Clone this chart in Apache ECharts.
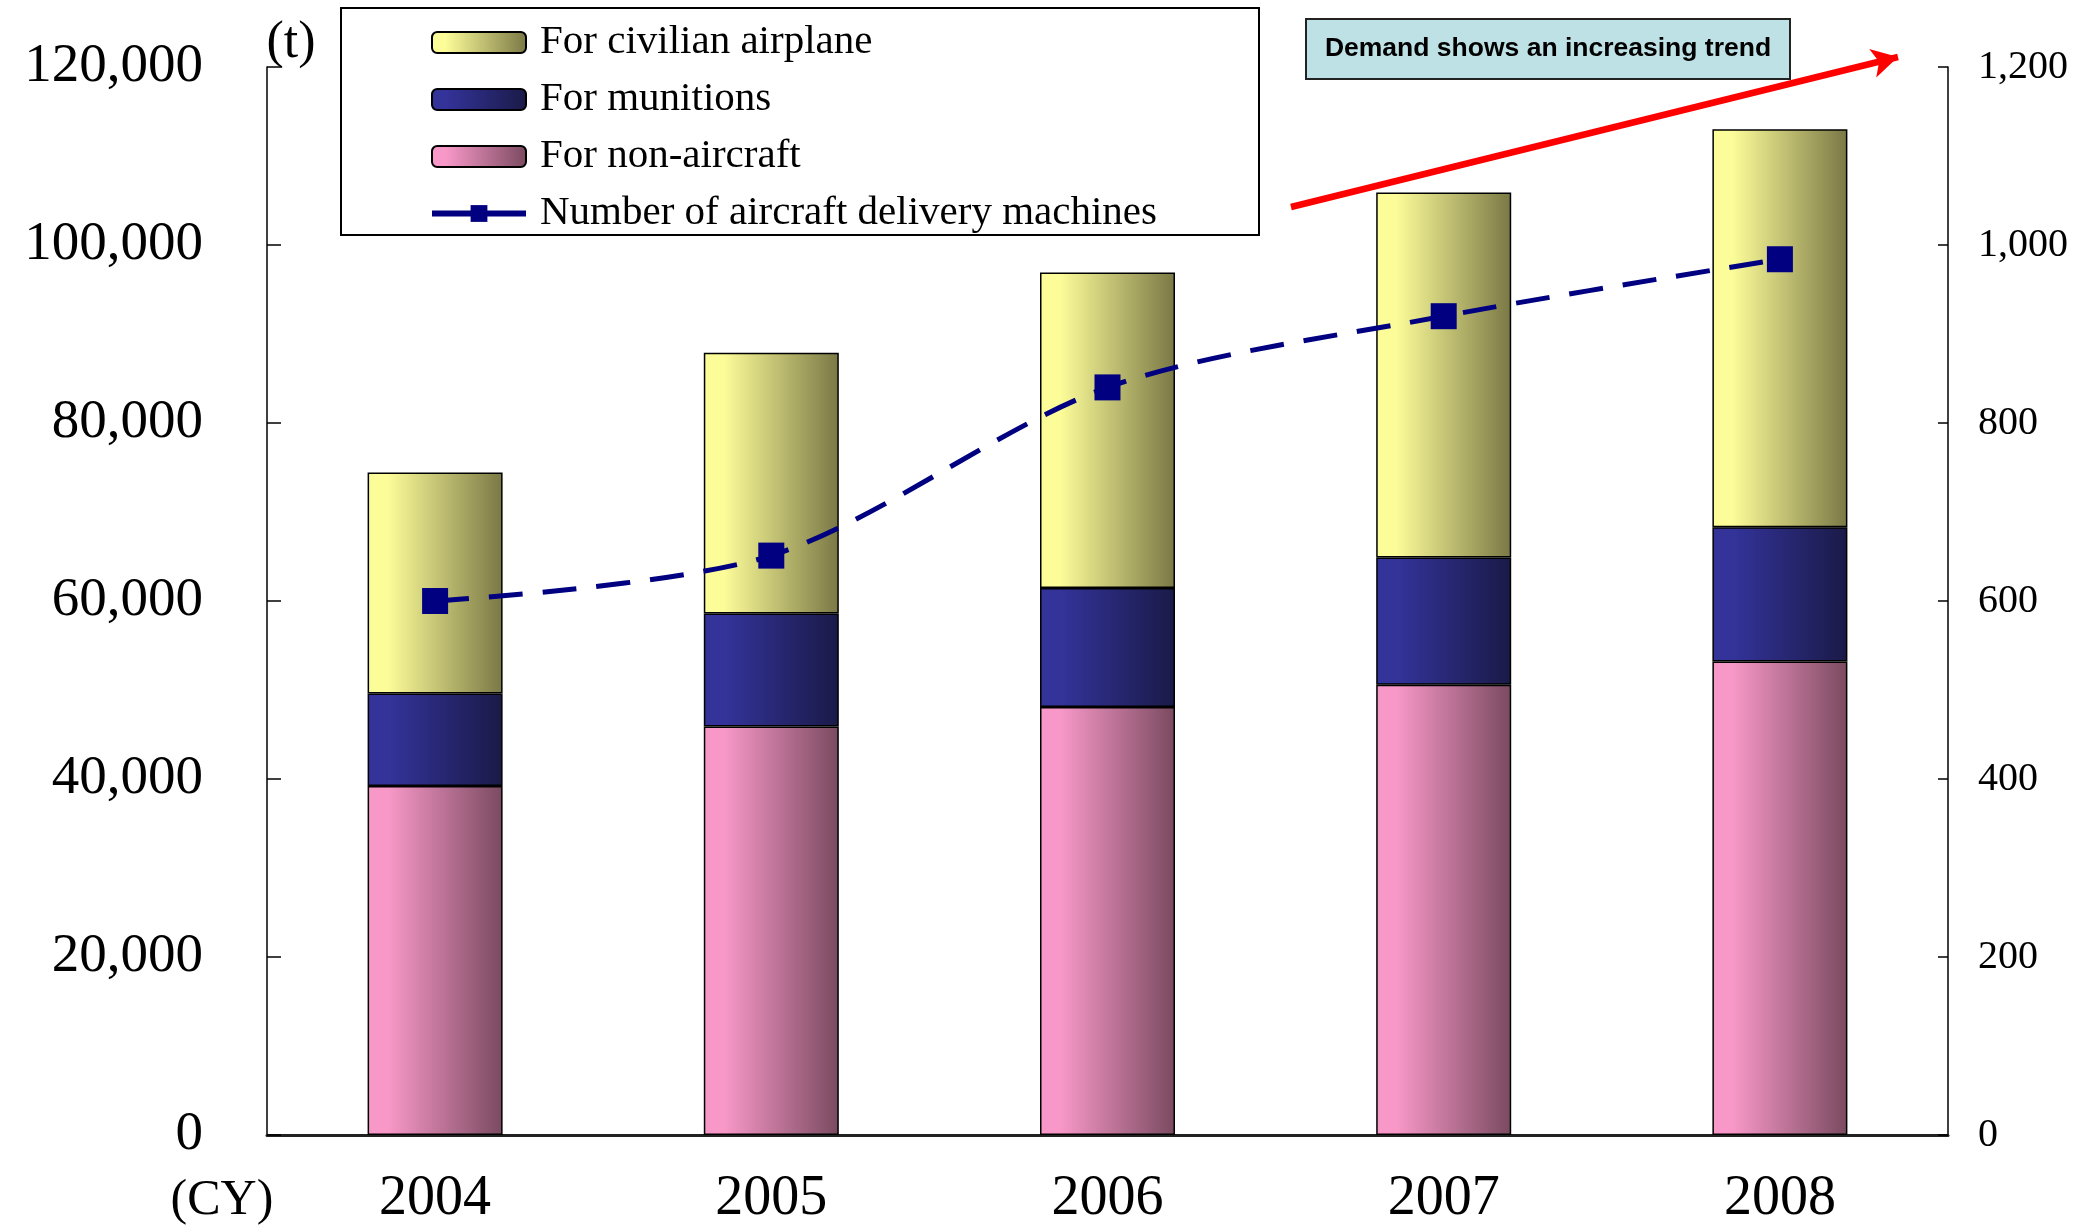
<!DOCTYPE html>
<html>
<head>
<meta charset="utf-8">
<script src="https://cdn.jsdelivr.net/npm/echarts@6/dist/echarts.min.js"></script>
<style>
  html, body { margin: 0; padding: 0; background: #fff; }
  #chart { width: 2096px; height: 1227px; }
</style>
</head>
<body>
<div id="chart"></div>
<script>
// 横軸の年
const years = ["2004", "2005", "2006", "2007", "2008"];
// 積み上げ棒（t）
const nonAircraft = [39200, 45900, 48100, 50600, 53200];
const munitions = [10400, 12700, 13350, 14300, 15100];
const civilian = [24850, 29300, 35450, 41000, 44700];
// 折れ線（機数）
const deliveries = [600, 651, 840, 920, 984];
// 目盛り
const leftTicks = [0, 120000, 20000];
const rightTicks = [0, 1200, 200];

const serif = "Liberation Serif";

function grad(c1, c2) {
  return new echarts.graphic.LinearGradient(0, 0, 1, 0, [
    { offset: 0, color: c1 },
    { offset: 0.15, color: c1 },
    { offset: 1, color: c2 },
  ]);
}

const chart = echarts.init(document.getElementById("chart"));

const option = {
  animation: false,
  grid: { left: 267, right: 148, top: 67, bottom: 91 },
  legend: {
    orient: "vertical",
    left: 429,
    top: 22,
    padding: 0,
    itemWidth: 94,
    itemHeight: 21,
    itemGap: 16,
    data: [
      "For civilian airplane",
      "For munitions",
      "For non-aircraft",
      { name: "Number of aircraft delivery machines", lineStyle: { width: 6, type: "solid" } },
    ],
    textStyle: { fontFamily: serif, fontSize: 41, lineHeight: 40, color: "#000", padding: [0, 0, 0, 9] },
  },
  xAxis: {
    type: "category",
    data: years,
    boundaryGap: true,
    axisLine: { lineStyle: { color: "#222", width: 3 } },
    axisTick: { inside: true, length: 15, lineStyle: { color: "#000", width: 1.5 } },
    axisLabel: { fontFamily: serif, fontSize: 56, lineHeight: 56, color: "#000", margin: 36 },
  },
  yAxis: [
    {
      type: "value",
      min: leftTicks[0],
      max: leftTicks[1],
      interval: leftTicks[2],
      splitLine: { show: false },
      axisLine: { show: true, lineStyle: { color: "#000", width: 1.5 } },
      axisTick: { show: true, inside: true, length: 14, lineStyle: { color: "#000", width: 1.5 } },
      axisLabel: {
        fontFamily: serif, fontSize: 55, color: "#000", margin: 64,
        formatter: (v) => v.toLocaleString("en-US"),
      },
    },
    {
      type: "value",
      position: "right",
      min: rightTicks[0],
      max: rightTicks[1],
      interval: rightTicks[2],
      splitLine: { show: false },
      axisLine: { show: true, lineStyle: { color: "#000", width: 1.5 } },
      axisTick: { show: true, inside: true, length: 10, lineStyle: { color: "#000", width: 1.5 } },
      axisLabel: {
        fontFamily: serif, fontSize: 40, color: "#000", margin: 30,
        formatter: (v) => v.toLocaleString("en-US"),
      },
    },
  ],
  series: [
    {
      name: "For non-aircraft",
      type: "bar",
      stack: "t",
      barWidth: 135,
      data: nonAircraft,
      itemStyle: { color: grad("#F898C8", "#7A4A60"), borderColor: "#000", borderWidth: 1.5 },
    },
    {
      name: "For munitions",
      type: "bar",
      stack: "t",
      barWidth: 135,
      data: munitions,
      itemStyle: { color: grad("#33339A", "#1A1A48"), borderColor: "#000", borderWidth: 1.5 },
    },
    {
      name: "For civilian airplane",
      type: "bar",
      stack: "t",
      barWidth: 135,
      data: civilian,
      itemStyle: { color: grad("#FCFC99", "#7A7845"), borderColor: "#000", borderWidth: 1.5 },
    },
    {
      name: "Number of aircraft delivery machines",
      type: "line",
      yAxisIndex: 1,
      data: deliveries,
      smooth: 0.3,
      symbol: "rect",
      symbolSize: 26,
      z: 5,
      itemStyle: { color: "#000080" },
      lineStyle: { color: "#000080", width: 5, type: [34, 20] },
      markLine: {
        silent: true,
        symbol: ["none", "arrow"],
        symbolSize: [22, 26],
        label: { show: false },
        lineStyle: { color: "#FF0000", width: 6.5, type: "solid" },
        data: [[{ x: 1291, y: 207 }, { x: 1898, y: 57 }]],
      },
    },
  ],
  graphic: [
    {
      type: "rect",
      z: 0,
      shape: { x: 341, y: 8, width: 918, height: 227 },
      style: { fill: "#fff", stroke: "#000", lineWidth: 2 },
    },
    {
      type: "rect",
      z: 0,
      shape: { x: 1306, y: 19, width: 484, height: 60 },
      style: { fill: "#BDE1E4", stroke: "#222", lineWidth: 2 },
    },
    {
      type: "text",
      z: 10,
      x: 1548,
      y: 49,
      style: {
        text: "Demand shows an increasing trend",
        font: "bold 26.5px 'Liberation Sans', Arial, sans-serif",
        fill: "#000",
        align: "center",
        verticalAlign: "middle",
      },
    },
    {
      type: "text",
      x: 291,
      y: 43,
      style: { text: "(t)", font: "52px 'Liberation Serif'", fill: "#000", align: "center", verticalAlign: "middle" },
    },
    {
      type: "text",
      x: 222,
      y: 1201,
      style: { text: "(CY)", font: "50px 'Liberation Serif'", fill: "#000", align: "center", verticalAlign: "middle" },
    },
  ],
};

chart.setOption(option);
</script>
</body>
</html>
